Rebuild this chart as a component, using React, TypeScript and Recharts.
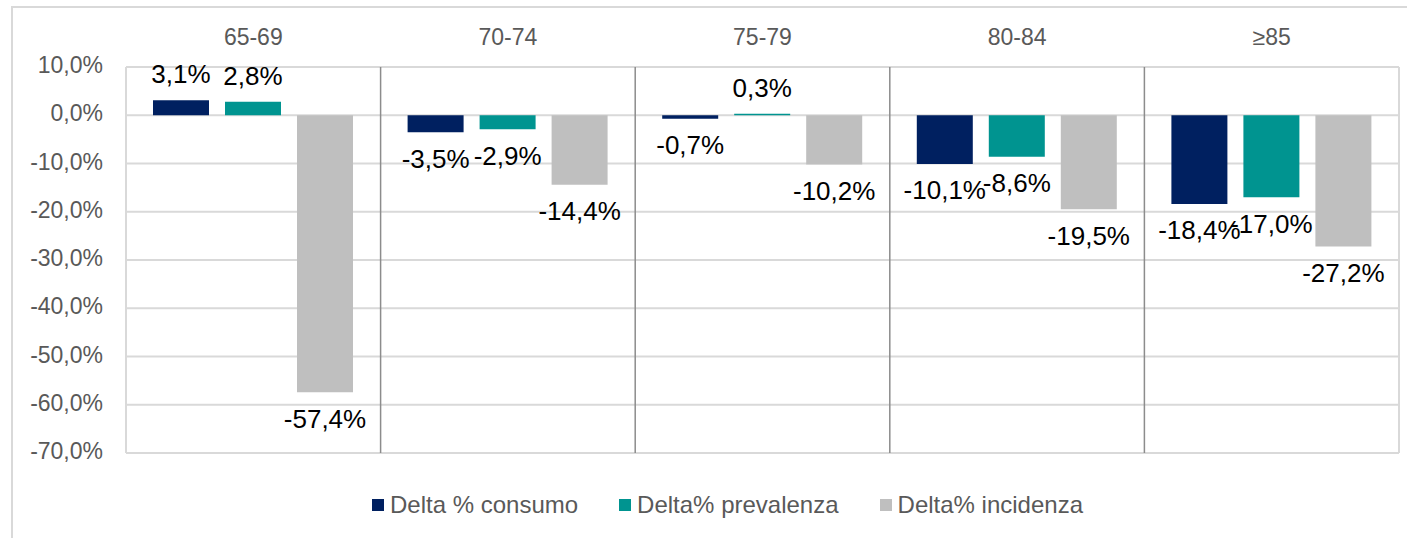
import React from 'react';
import { BarChart, Bar, XAxis, YAxis, CartesianGrid, Legend, LabelList, ReferenceLine } from 'recharts';

const categories = ['65-69', '70-74', '75-79', '80-84', '≥85'];
const consumo = [3.1, -3.5, -0.7, -10.1, -18.4];
const prevalenza = [2.8, -2.9, 0.3, -8.6, -17.0];
const incidenza = [-57.4, -14.4, -10.2, -19.5, -27.2];
const yTicks = [10, 0, -10, -20, -30, -40, -50, -60, -70];

const series = [
  { key: 'consumo', name: 'Delta % consumo', color: '#002060' },
  { key: 'prevalenza', name: 'Delta% prevalenza', color: '#009490' },
  { key: 'incidenza', name: 'Delta% incidenza', color: '#BFBFBF' },
];

const data = categories.map((c, i) => ({
  cat: c,
  consumo: consumo[i],
  prevalenza: prevalenza[i],
  incidenza: incidenza[i],
}));

const fmt = (v: any) => Number(v).toFixed(1).replace('.', ',') + '%';

const font = '"Liberation Sans", Arial, sans-serif';

function LegendBox() {
  return (
    <div style={{ display: 'flex', fontSize: 24, color: '#595959', fontFamily: font, lineHeight: '28px' }}>
      {series.map((s, i) => (
        <div key={s.key} style={{ display: 'flex', alignItems: 'center', marginRight: i < series.length - 1 ? 41 : 0 }}>
          <span style={{ display: 'inline-block', width: 12, height: 12, background: s.color, marginRight: 6 }} />
          {s.name}
        </div>
      ))}
    </div>
  );
}

export default function App() {
  return (
    <div style={{ position: 'fixed', left: 0, top: 0, width: 1407, height: 538, overflow: 'hidden', background: '#fff', fontFamily: font }}>
      <div style={{ position: 'absolute', left: 11, top: 6, width: 1440, height: 600, borderTop: '2px solid #D9D9D9', borderLeft: '2px solid #D9D9D9' }} />
      <div style={{ position: 'absolute', left: 0, top: 0 }}>
        <BarChart
          width={1407}
          height={538}
          data={data}
          margin={{ top: 0, right: 8, bottom: 85, left: 16 }}
          barCategoryGap={27}
          barGap={16}
        >
          <CartesianGrid horizontal vertical={false} stroke="#D9D9D9" strokeWidth={2} />
          <XAxis
            dataKey="cat"
            orientation="top"
            height={67}
            axisLine={false}
            tickLine={false}
            tickSize={0}
            tickMargin={22}
            tick={{ fill: '#595959', fontSize: 23 }}
          />
          <YAxis
            width={110}
            domain={[-70, 10]}
            ticks={yTicks}
            allowDataOverflow
            axisLine={{ stroke: '#D9D9D9', strokeWidth: 2 }}
            tickLine={false}
            tickSize={0}
            tickMargin={23}
            tickFormatter={fmt}
            tick={{ fill: '#595959', fontSize: 23, dy: -2 }}
          />
          {categories.slice(1).map((c) => (
            <ReferenceLine key={c} x={c} position="start" stroke="#8C8C8C" strokeWidth={1.5} />
          ))}
          <ReferenceLine x={categories[categories.length - 1]} position="end" stroke="#D9D9D9" strokeWidth={2} />
          {series.map((s) => (
            <Bar key={s.key} dataKey={s.key} name={s.name} fill={s.color} isAnimationActive={false}>
              <LabelList dataKey={s.key} position="top" offset={17} formatter={fmt} fill="#000" fontSize={26} />
            </Bar>
          ))}
          <Legend
            layout="horizontal"
            align="center"
            verticalAlign="middle"
            content={() => <LegendBox />}
            wrapperStyle={{ left: 372, top: 491, width: 'auto' }}
          />
        </BarChart>
      </div>
    </div>
  );
}
